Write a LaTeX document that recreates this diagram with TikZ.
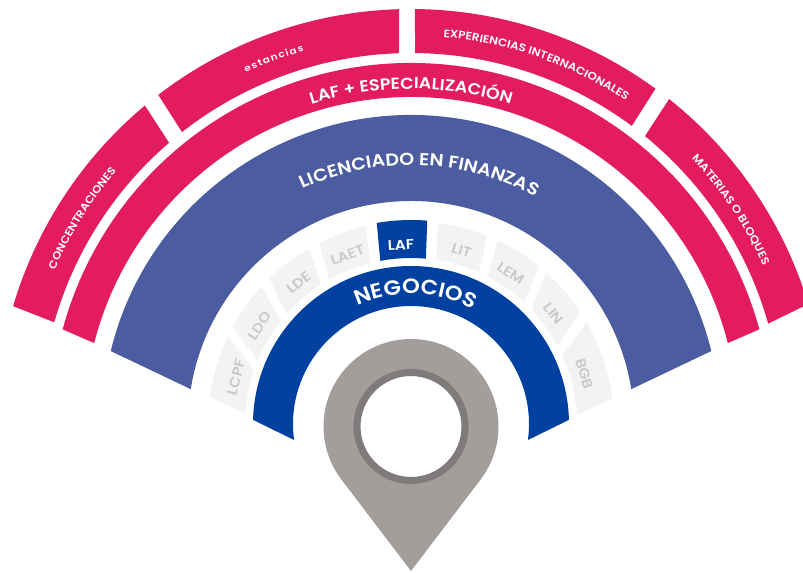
\documentclass[tikz,border=0pt]{standalone}
\usepackage{fontspec}
\setmainfont{Poppins}[BoldFont={Poppins SemiBold},FakeStretch=1.1]
\usetikzlibrary{calc}
\usetikzlibrary{decorations.text}
\definecolor{DarkPink}{HTML}{E31B61}
\definecolor{MidBlue}{HTML}{4C5CA0}
\definecolor{DeepBlue}{HTML}{0040A0}
\definecolor{PinGrey}{HTML}{A39E9B}
\definecolor{RingGrey}{HTML}{7F7B7A}
\definecolor{TileGrey}{HTML}{F3F3F3}
\definecolor{TileText}{HTML}{CACACA}
% band: fill, inner radius, outer radius, outer start/end angle, inner end/start angle
\newcommand{\band}[7]{\fill[#1] (#4:#3) arc[start angle=#4,end angle=#5,radius=#3]
  -- (#6:#2) arc[start angle=#6,end angle=#7,radius=#2] -- cycle;}
% arclabel: radius, middle angle, font, text
\newcommand{\arclabel}[4]{\path[decorate,decoration={text along path,text align=center,
  text color=white,text={|#3|#4}}] (#2+60:#1) arc[start angle=#2+60,end angle=#2-60,radius=#1];}
\tikzset{
  tilelabel/.style={text=TileText,font=\fontsize{10.5}{11}\selectfont\bfseries,inner sep=0pt},
  pinhole/.style={circle,draw=RingGrey,fill=white,line width=5.3pt,minimum size=81pt,inner sep=0pt}
}

\begin{document}
\begin{tikzpicture}[x=.75pt,y=.75pt]

  \clip (-411,-148) rectangle (392,424);

  \coordinate (Origin) at (0,0);

  % outer ring, cut in four
  \band{DarkPink}{371}{415}{163.5}{129.88}{130.7}{164.09}
  \band{DarkPink}{371}{415}{127.52}{91.65}{91.85}{128.11}
  \band{DarkPink}{371}{415}{89.45}{53.9}{53.47}{89.38}
  \band{DarkPink}{371}{415}{51.54}{16.8}{15.7}{50.9}

  % the three full bands
  \band{DarkPink}{327}{361}{164.8}{15.2}{14.33}{165.67}
  \band{MidBlue}{223}{309}{166.35}{13.65}{9}{171}
  \band{DeepBlue}{118}{158}{178.5}{1.5}{-7.8}{187.8}

  % tiles
  \foreach \aa/\ab/\ac/\ad/\midangle/\lab in {
    172.27/154.34/160.98/176.5/165/LCPF,
    151.3/137.5/141.55/157.6/147/LDO,
    134.2/120.06/122.8/138.57/128.5/LDE,
    116.95/102.82/104.18/119.58/110.6/LAET,
    82.3/68.02/65.76/81.33/73.7/LIT,
    64.77/50.95/47/62.42/56.5/LEM,
    48.37/33.5/28/43.3/37.8/LIN,
    30.2/7.24/3.13/24.24/16.1/BGB}
  {
    \band{TileGrey}{166}{203}{\aa}{\ab}{\ac}{\ad}
    \node[tilelabel,rotate=\midangle-90] (\lab) at (\midangle:180.5) {\lab};
  }
  \band{DeepBlue}{166}{204}{99.67}{85.43}{84.86}{100.66}
  \node[tilelabel,text=white,rotate=3.2] (LAF) at (93.2:179) {LAF};

  % curved labels
  \arclabel{130}{88}{\fontsize{15.5}{18}\selectfont\bfseries}{NEGOCIOS}
  \arclabel{259}{88}{\fontsize{13}{14}\selectfont\bfseries}{LICENCIADO EN FINANZAS}
  \arclabel{335}{90}{\fontsize{12}{13}\selectfont\bfseries}{LAF + ESPECIALIZACIÓN}
  \arclabel{388}{110.6}{\fontsize{7}{8}\selectfont\bfseries}{{e\kern1pt}{s\kern1pt}{t\kern1pt}{a\kern1pt}{n\kern1pt}{c\kern1pt}{i\kern1pt}{a\kern1pt}{s}}
  \arclabel{388}{70.8}{\fontsize{8.2}{9}\selectfont\bfseries}{EXPERIENCIAS INTERNACIONALES}
  \arclabel{386}{33.8}{\fontsize{8.2}{9}\selectfont\bfseries}{MATERIAS O BLOQUES}
  \arclabel{388}{148}{\fontsize{8}{9}\selectfont\bfseries}{CONCENTRACIONES}

  % the pin
  \coordinate (PinCentre) at (0,-2.5);
  \coordinate (PinTip) at (0,-147);
  \fill[PinGrey] (PinTip) -- ($(PinCentre)+(217.1:87.5)$) arc[start angle=217.1,end angle=-37.1,radius=87.5] -- cycle;
  \node[pinhole] (PinHole) at (PinCentre) {};

\end{tikzpicture}
\end{document}
